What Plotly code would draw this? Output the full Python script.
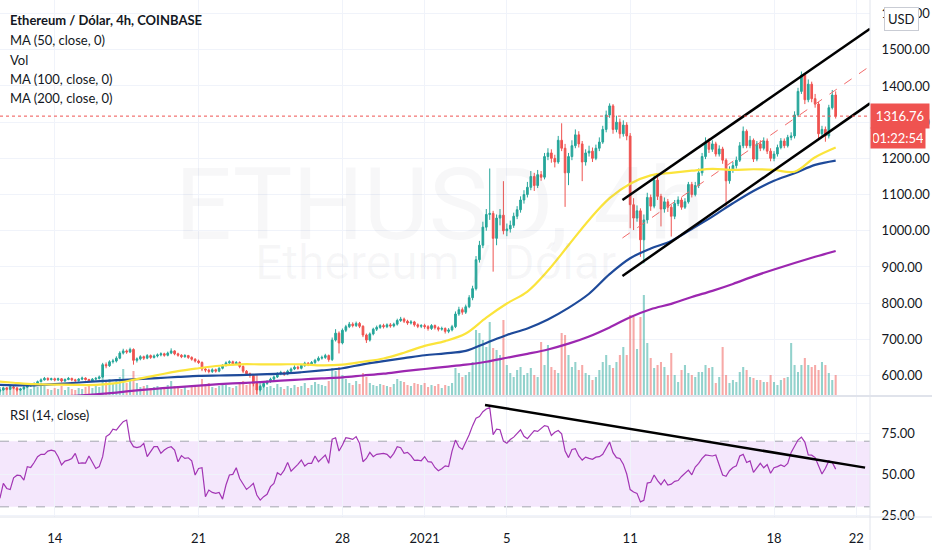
import pandas as pd
import plotly.graph_objects as go

# ETH/USD 4h (COINBASE) - velas de 11/12/2020 08:00 ate 21/01/2021 00:00
abertura_inicial = 557

fechamento = [
    560, 566, 562, 568,                       # 11 dez
    565, 560, 563, 568, 571, 574,             # 12 dez
    578, 583, 588, 592, 589, 591,
    588, 591, 585, 589, 592, 588,
    586, 590, 593, 589, 584, 590,
    592, 596, 630, 627, 638, 640,
    648, 662, 668, 665, 672, 642,
    646, 652, 648, 655, 650, 654,
    657, 660, 656, 662, 668, 660,
    656, 652, 655, 650, 645, 640,
    636, 618, 615, 611, 616, 612,             # 21 dez
    620, 628, 635, 638, 632, 636,
    625, 612, 605, 600, 578, 560,
    570, 578, 583, 590, 596, 605,
    608, 604, 612, 618, 623, 620,
    628, 634, 630, 636, 642, 648,
    650, 655, 644, 698, 717, 690,
    725, 735, 742, 738, 744, 736,             # 28 dez
    712, 698, 715, 728, 733, 738,
    735, 740, 737, 742, 752, 756,
    750, 745, 748, 740, 736, 738,
    735, 730, 738, 732, 728, 730,             # 1 jan
    722, 726, 735, 770, 782, 775,
    790, 815, 840, 920, 960, 1010,
    1045, 1048, 979, 1035, 1043, 1000,
    1005, 1015, 1040, 1058, 1085, 1100,
    1120, 1150, 1125, 1155, 1148, 1205,
    1215, 1200, 1190, 1250, 1228, 1160,
    1205, 1235, 1265, 1240, 1190, 1215,
    1220, 1200, 1228, 1245, 1280, 1320,
    1345, 1280, 1300, 1268, 1292, 1262,
    1072, 1035, 1055, 975, 1030, 1092,        # 11 jan
    1068, 1140, 1095, 1060, 1080, 1065,
    1040, 1075, 1085, 1065, 1080, 1128,
    1100, 1125, 1160, 1205, 1245, 1225,
    1240, 1212, 1226, 1195, 1138, 1168,
    1180, 1195, 1235, 1275, 1235, 1250,
    1198, 1240, 1228, 1248, 1220, 1200,
    1212, 1230, 1248, 1235, 1258, 1262,       # 18 jan
    1320, 1385, 1430, 1362, 1405, 1365,
    1350, 1268, 1280, 1262, 1340, 1375,
    1316.76,                                  # 21 jan
]

maxima = [
    563, 569, 568, 571,
    571, 567, 566, 570, 574, 577,
    581, 586, 592, 596, 595, 594,
    594, 594, 593, 592, 596, 594,
    591, 593, 597, 595, 591, 593,
    596, 600, 635, 636, 642, 646,
    653, 667, 674, 672, 677, 675,
    650, 656, 655, 659, 658, 658,
    661, 664, 663, 666, 675, 670,
    663, 659, 659, 657, 653, 648,
    644, 639, 622, 619, 620, 619,
    623, 631, 639, 642, 641, 640,
    639, 628, 615, 608, 603, 582,
    574, 582, 587, 594, 600, 609,
    613, 611, 616, 622, 628, 627,
    632, 638, 637, 640, 646, 653,
    655, 660, 658, 705, 728, 722,
    730, 740, 748, 747, 749, 748,
    739, 716, 719, 732, 738, 742,
    743, 744, 745, 746, 757, 762,
    760, 754, 753, 751, 744, 742,
    743, 739, 742, 741, 736, 735,
    733, 731, 740, 777, 790, 788,
    796, 822, 848, 930, 972, 1025,
    1060, 1172, 1055, 1045, 1060, 1137,
    1020, 1028, 1050, 1068, 1095, 1112,
    1135, 1165, 1160, 1168, 1165, 1215,
    1228, 1225, 1210, 1262, 1297, 1240,
    1215, 1250, 1280, 1275, 1248, 1225,
    1235, 1230, 1238, 1258, 1290, 1332,
    1352, 1350, 1318, 1310, 1305, 1300,
    1270, 1090, 1070, 1062, 1045, 1105,
    1100, 1155, 1148, 1102, 1092, 1088,
    1072, 1085, 1095, 1092, 1090, 1135,
    1135, 1135, 1172, 1215, 1258, 1255,
    1250, 1246, 1236, 1232, 1200, 1178,
    1190, 1205, 1245, 1288, 1280, 1262,
    1255, 1248, 1250, 1258, 1255, 1228,
    1220, 1238, 1256, 1255, 1265, 1272,
    1330, 1395, 1440, 1436, 1418, 1412,
    1378, 1356, 1290, 1288, 1348, 1389,
    1385,
]

minima = [
    553, 558, 559, 560,
    562, 556, 557, 561, 566, 569,
    572, 576, 581, 586, 585, 586,
    584, 585, 581, 582, 587, 584,
    582, 583, 587, 586, 580, 582,
    587, 589, 594, 620, 624, 633,
    636, 645, 658, 660, 662, 630,
    636, 642, 643, 645, 646, 647,
    650, 653, 652, 653, 659, 656,
    652, 648, 649, 646, 641, 636,
    632, 612, 609, 606, 607, 608,
    609, 617, 625, 631, 628, 629,
    620, 607, 600, 594, 570, 549,
    556, 566, 574, 580, 587, 593,
    601, 599, 601, 608, 615, 616,
    617, 624, 626, 627, 632, 639,
    644, 646, 638, 640, 694, 661,
    686, 720, 731, 733, 734, 731,
    706, 690, 694, 711, 723, 729,
    730, 731, 732, 733, 738, 748,
    745, 740, 741, 735, 731, 731,
    729, 724, 726, 727, 722, 724,
    716, 717, 722, 731, 765, 768,
    770, 786, 808, 835, 912, 952,
    1000, 1030, 887, 960, 1015, 990,
    985, 995, 1008, 1032, 1050, 1075,
    1092, 1112, 1110, 1118, 1138, 1142,
    1195, 1188, 1175, 1185, 1220, 1066,
    1126, 1195, 1228, 1230, 1137, 1180,
    1205, 1190, 1195, 1220, 1240, 1272,
    1312, 1268, 1272, 1255, 1260, 1250,
    1007, 1002, 1025, 928, 910, 1020,
    1055, 1062, 1085, 1012, 1050, 1052,
    984, 1032, 1068, 1058, 1060, 1075,
    1092, 1095, 1118, 1152, 1198, 1215,
    1218, 1205, 1205, 1185, 1066, 1130,
    1160, 1172, 1190, 1228, 1228, 1228,
    1190, 1192, 1220, 1222, 1212, 1192,
    1192, 1205, 1225, 1228, 1230, 1250,
    1255, 1315, 1378, 1350, 1355, 1355,
    1340, 1255, 1258, 1246, 1255, 1335,
    1310,
]

# volume em milhares de ETH
volume = [
    8, 6, 7, 9,
    6, 8, 5, 7, 9, 6,
    10, 8, 12, 9, 6, 5,
    7, 6, 9, 5, 8, 6,
    5, 7, 6, 8, 9, 7,
    9, 8, 22, 14, 16, 12,
    14, 18, 26, 12, 15, 24,
    12, 8, 9, 10, 7, 8,
    9, 6, 8, 10, 14, 9,
    7, 6, 8, 5, 9, 8,
    10, 16, 9, 12, 8, 7,
    9, 12, 10, 8, 7, 9,
    11, 14, 10, 12, 18, 20,
    14, 10, 8, 9, 7, 11,
    8, 6, 9, 7, 10, 8,
    9, 12, 7, 10, 13, 11,
    10, 9, 14, 27, 24, 28,
    20, 16, 12, 10, 14, 11,
    22, 18, 12, 10, 9, 11,
    10, 9, 8, 11, 16, 14,
    13, 10, 9, 12, 11, 10,
    12, 8, 10, 9, 11, 7,
    10, 9, 12, 27, 22, 18,
    20, 23, 33, 65, 62, 55,
    48, 73, 47, 45, 40, 75,
    30, 22, 18, 25, 28, 20,
    22, 27, 20, 18, 53, 30,
    50, 28, 25, 22, 62, 60,
    40, 28, 33, 25, 30, 22,
    20, 15, 18, 25, 33, 40,
    30, 27, 33, 40, 48, 40,
    80, 78, 46, 78, 100, 52,
    37, 27, 30, 33, 28, 20,
    42, 20, 13, 25, 30, 22,
    20, 18, 23, 23, 30, 27,
    28, 12, 18, 48, 20, 12,
    15, 13, 23, 28, 25, 18,
    17, 15, 15, 13, 13, 20,
    13, 10, 15, 17, 18, 52,
    30, 23, 30, 37, 30, 28,
    30, 25, 33, 30, 22, 15,
    20,
]

rsi = [
    35.2, 44.3, 41.2, 40.5, 47.7, 49.3, 49, 46.3, 54.5, 54,
    57, 60.6, 62, 62, 64, 64.6, 64, 60.5, 55.5, 57.9,
    58.5, 59.5, 62.6, 56.5, 56.8, 56.7, 61, 57.5, 53.4, 54.5,
    60.6, 72.8, 74.2, 77.4, 76.8, 79.5, 81.9, 82.9, 70.1, 66.7,
    66.1, 66.7, 68.7, 60.6, 63.6, 66.7, 66.7, 62.6, 64.6, 66,
    66.6, 64.6, 57.5, 61.2, 59.5, 59.9, 58, 49.4, 53.4, 53.8,
    36.2, 40.2, 38.8, 38.2, 38.8, 34.7, 43.3, 49.4, 49.8, 53.8,
    47.3, 44.3, 40.6, 42.3, 44.3, 37.2, 34.1, 36.2, 37.6, 42.3,
    44.3, 50.8, 49.4, 52.4, 57.1, 51.8, 53.8, 55.9, 58.5, 54.9,
    56.5, 56.5, 61, 57.5, 59.5, 61.6, 56.5, 71.3, 72.1, 64,
    67.7, 72.1, 71.7, 71.1, 72.8, 68.7, 57.5, 59.5, 63.2, 60.6,
    62, 62.4, 62.6, 62, 59.9, 62.6, 66.7, 66, 62.6, 63.2,
    61.2, 58.3, 58.5, 58.1, 60.6, 57.5, 57.3, 54, 52, 53.2,
    55, 54.5, 64, 70.7, 66.5, 65, 69, 74, 79.5, 84,
    85, 88, 89.6, 90.5, 74, 77.3, 77, 70, 68.7, 71,
    72.5, 75, 77, 73, 71.5, 74, 76.5, 76, 78, 79.5,
    79, 73.5, 75.5, 76.5, 74.5, 64, 60, 65, 65.5, 61,
    58.5, 60.3, 59.5, 59, 60.3, 60.6, 62, 66, 69.5, 63,
    60, 59.5, 56, 50, 40.5, 39, 38.2, 33, 34, 44.5,
    45, 49.4, 46, 43.5, 46.5, 43.3, 43.8, 45.5, 46, 48.5,
    50.5, 52.4, 49.5, 54.3, 56.5, 59.5, 61.6, 61.4, 61, 61.6,
    56, 49.4, 48.6, 52, 54, 55, 61, 62, 57, 58,
    51, 54, 56.5, 53.8, 55.8, 50.5, 53.8, 54.5, 55.5, 54.5,
    56.5, 63.2, 67, 70.7, 72.5, 69.5, 61.6, 61.5, 60, 55,
    50, 53.5, 58, 57, 53,
]

# medias moveis (11/12 08:00 e depois uma por dia, 00:00)
ma50 = [583, 580, 576, 575, 574, 574, 579, 590, 601, 612, 620, 627, 631, 631, 631,
        631, 628, 630, 638, 647, 663,
        682, 695, 716, 760, 799, 832, 890, 960, 1030, 1090, 1130, 1153, 1160, 1166,
        1171, 1168, 1170, 1168, 1163, 1203, 1230]
ma100 = [574, 573, 573, 576, 580, 584, 587, 590, 593, 596, 599, 600, 601, 603, 605,
         609, 614, 620, 631, 640, 648,
         656, 661, 668, 690, 712, 730, 755, 787, 826, 880, 924, 951, 972, 1005,
         1039, 1076, 1110, 1138, 1159, 1182, 1194]
ma200 = [530, 533, 537, 541, 544, 548, 553, 559, 564, 568, 572, 576, 579, 582, 586,
         589, 592, 595, 600, 605, 612,
         618, 624, 630, 638, 649, 660, 672, 688, 708, 733, 761, 783, 798, 817,
         834, 853, 874, 893, 911, 928, 944]

# desenhos: canal de alta e linha de tendencia do RSI
canal_x = ['2021-01-10 15:00', '2021-01-22 16:05']
canal_sup = [1085, 1558]
canal_inf = [875, 1352]
canal_meio = [980, 1455]
rsi_tend_x = ['2021-01-03 22:30', '2021-01-22 10:20']
rsi_tend = [92.1, 53.9]

dias_x = ['2020-12-14', '2020-12-21', '2020-12-28', '2021-01-01', '2021-01-05',
          '2021-01-11', '2021-01-18', '2021-01-22']
dias_txt = ['14', '21', '28', '2021', '5', '11', '18', '22']
precos_ticks = [600, 700, 800, 900, 1000, 1100, 1200, 1300, 1400, 1500, 1600]
rsi_ticks = [25, 50, 75]

datas = pd.date_range('2020-12-11 08:00', periods=len(fechamento), freq='4h')
abertura = [abertura_inicial] + fechamento[:-1]
ma_datas = [pd.Timestamp('2020-12-11 08:00')] + list(pd.date_range('2020-12-12', '2021-01-21', freq='D'))

VERDE = '#26a69a'
VERMELHO = '#ef5350'
cores_vol = ['rgba(38,166,154,0.5)' if c >= o else 'rgba(239,83,80,0.5)'
             for o, c in zip(abertura, fechamento)]

fig = go.Figure()

fig.add_trace(go.Bar(x=datas, y=volume, marker_color=cores_vol, marker_line_width=0,
                     width=4 * 3600 * 1000 * 0.6, xaxis='x', yaxis='y'))

fig.add_trace(go.Candlestick(x=datas, open=abertura, high=maxima, low=minima, close=fechamento,
                             increasing=dict(line=dict(color=VERDE, width=1), fillcolor=VERDE),
                             decreasing=dict(line=dict(color=VERMELHO, width=1), fillcolor=VERMELHO),
                             whiskerwidth=0, xaxis='x', yaxis='y3'))

for serie, cor in [(ma200, '#9c27b0'), (ma100, '#1e4a9a'), (ma50, '#fbe43b')]:
    fig.add_trace(go.Scatter(x=ma_datas, y=serie, mode='lines', line=dict(color=cor, width=2.2, shape='spline'),
                             xaxis='x', yaxis='y3'))

fig.add_trace(go.Scatter(x=canal_x, y=canal_meio, mode='lines',
                         line=dict(color='#f26b6b', width=1, dash='dash'), xaxis='x', yaxis='y3'))
for serie in [canal_sup, canal_inf]:
    fig.add_trace(go.Scatter(x=canal_x, y=serie, mode='lines', line=dict(color='black', width=2.5),
                             xaxis='x', yaxis='y3'))

fig.add_trace(go.Scatter(x=datas, y=rsi, mode='lines', line=dict(color='#a235b4', width=1.2),
                         xaxis='x2', yaxis='y2'))
fig.add_trace(go.Scatter(x=rsi_tend_x, y=rsi_tend, mode='lines', line=dict(color='black', width=2.5),
                         xaxis='x2', yaxis='y2'))

fonte = dict(family='Lato, Roboto, sans-serif', size=13, color='#131722')
grade = '#f0f3fa'
borda = '#e0e3eb'
dir_px = 932 / 870

fig.update_layout(
    width=932, height=550,
    margin=dict(l=0, r=62, t=0, b=33),
    paper_bgcolor='white', plot_bgcolor='white',
    showlegend=False, hovermode=False, font=fonte,
    xaxis=dict(domain=[0, 1], range=['2020-12-11 08:07', '2021-01-22 16:05'], anchor='y',
               tickvals=dias_x, showticklabels=False, showgrid=True, gridcolor=grade,
               zeroline=False, rangeslider=dict(visible=False)),
    xaxis2=dict(matches='x', anchor='y2', tickvals=dias_x, ticktext=dias_txt,
                showgrid=True, gridcolor=grade, ticks='outside', ticklen=9,
                tickcolor='rgba(0,0,0,0)', tickfont=fonte, zeroline=False,
                rangeslider=dict(visible=False)),
    yaxis=dict(domain=[0.236, 1], range=[0, 395], visible=False, fixedrange=True),
    yaxis3=dict(overlaying='y', side='right', anchor='x', range=[546.2, 1637.6],
                tickvals=precos_ticks, ticktext=[f'{p:.2f}' for p in precos_ticks],
                showgrid=True, gridcolor=grade, ticks='outside', ticklen=8,
                tickcolor='rgba(0,0,0,0)', tickfont=fonte, zeroline=False),
    yaxis2=dict(domain=[0, 0.2321], side='right', range=[23.8, 96.95],
                tickvals=rsi_ticks, ticktext=[f'{v:.2f}' for v in rsi_ticks],
                showgrid=True, gridcolor=grade, ticks='outside', ticklen=8,
                tickcolor='rgba(0,0,0,0)', tickfont=fonte, zeroline=False),
)

formas = [
    # faixa 30-70 do RSI
    dict(type='rect', xref='paper', yref='y2', x0=0, x1=1, y0=30, y1=70,
         fillcolor='#f4e7fc', line=dict(width=0), layer='below'),
    dict(type='line', xref='paper', yref='y2', x0=0, x1=1, y0=70, y1=70,
         line=dict(color='#a3a6af', width=1, dash='dash'), layer='below'),
    dict(type='line', xref='paper', yref='y2', x0=0, x1=1, y0=30, y1=30,
         line=dict(color='#a3a6af', width=1, dash='dash'), layer='below'),
    # linha do preco atual
    dict(type='line', xref='paper', yref='y3', x0=0, x1=1, y0=fechamento[-1], y1=fechamento[-1],
         line=dict(color=VERMELHO, width=1, dash='dot')),
    # separadores dos paineis e eixos
    dict(type='line', xref='paper', yref='paper', x0=0, x1=dir_px, y0=0.234, y1=0.234,
         line=dict(color=borda, width=2)),
    dict(type='line', xref='paper', yref='paper', x0=0, x1=dir_px, y0=0, y1=0,
         line=dict(color=borda, width=1)),
    dict(type='line', xref='paper', yref='paper', x0=1, x1=1, y0=-0.064, y1=1,
         line=dict(color=borda, width=1)),
]
fig.update_layout(shapes=formas)

anots = []
# marca d'agua
anots.append(dict(text='ETHUSD, 4h', xref='paper', yref='paper', x=0.505, y=0.722,
                  showarrow=False, font=dict(family='Liberation Sans Narrow, Roboto, sans-serif',
                                             size=100, color='rgba(120,123,134,0.06)')))
anots.append(dict(text='Ethereum / Dólar', xref='paper', yref='paper', x=0.5, y=0.493,
                  showarrow=False, font=dict(family='Roboto, sans-serif', size=48,
                                             color='rgba(120,123,134,0.06)')))
# legenda do topo
linhas = ['<b>Ethereum / Dólar, 4h, COINBASE</b>', 'MA (50, close, 0)', 'Vol',
          'MA (100, close, 0)', 'MA (200, close, 0)']
for txt, ypx in zip(linhas, [20, 40, 60, 79, 98]):
    anots.append(dict(text=txt, xref='paper', yref='paper', x=8 / 870, y=1 - ypx / 517,
                      xanchor='left', yanchor='middle', showarrow=False, font=fonte))
anots.append(dict(text='RSI (14, close)', xref='paper', yref='paper', x=8 / 870, y=1 - 415 / 517,
                  xanchor='left', yanchor='middle', showarrow=False, font=fonte))
# etiquetas do eixo de preco
anots.append(dict(text=f'{fechamento[-1]:.2f}', xref='paper', yref='y3', x=1, y=fechamento[-1],
                  xanchor='left', yanchor='middle', showarrow=False, bgcolor=VERMELHO,
                  width=50, borderpad=4, font=dict(family=fonte['family'], size=13, color='white')))
anots.append(dict(text='01:22:54', xref='paper', yref='y3', x=1, y=fechamento[-1], yshift=-22,
                  xanchor='left', yanchor='middle', showarrow=False, bgcolor=VERMELHO,
                  width=50, borderpad=2, font=dict(family=fonte['family'], size=13, color='white')))
anots.append(dict(text='USD', xref='paper', yref='paper', x=901 / 870, y=1 - 19 / 517,
                  xanchor='center', yanchor='middle', showarrow=False, bgcolor='white',
                  bordercolor='#c9ccd4', borderwidth=1, borderpad=3, font=fonte))
fig.update_layout(annotations=anots)

# tira a margem padrao do body para a figura encostar no canto
fig.write_html('out.html', config={'displayModeBar': False},
               post_script="document.body.style.margin='0';")
